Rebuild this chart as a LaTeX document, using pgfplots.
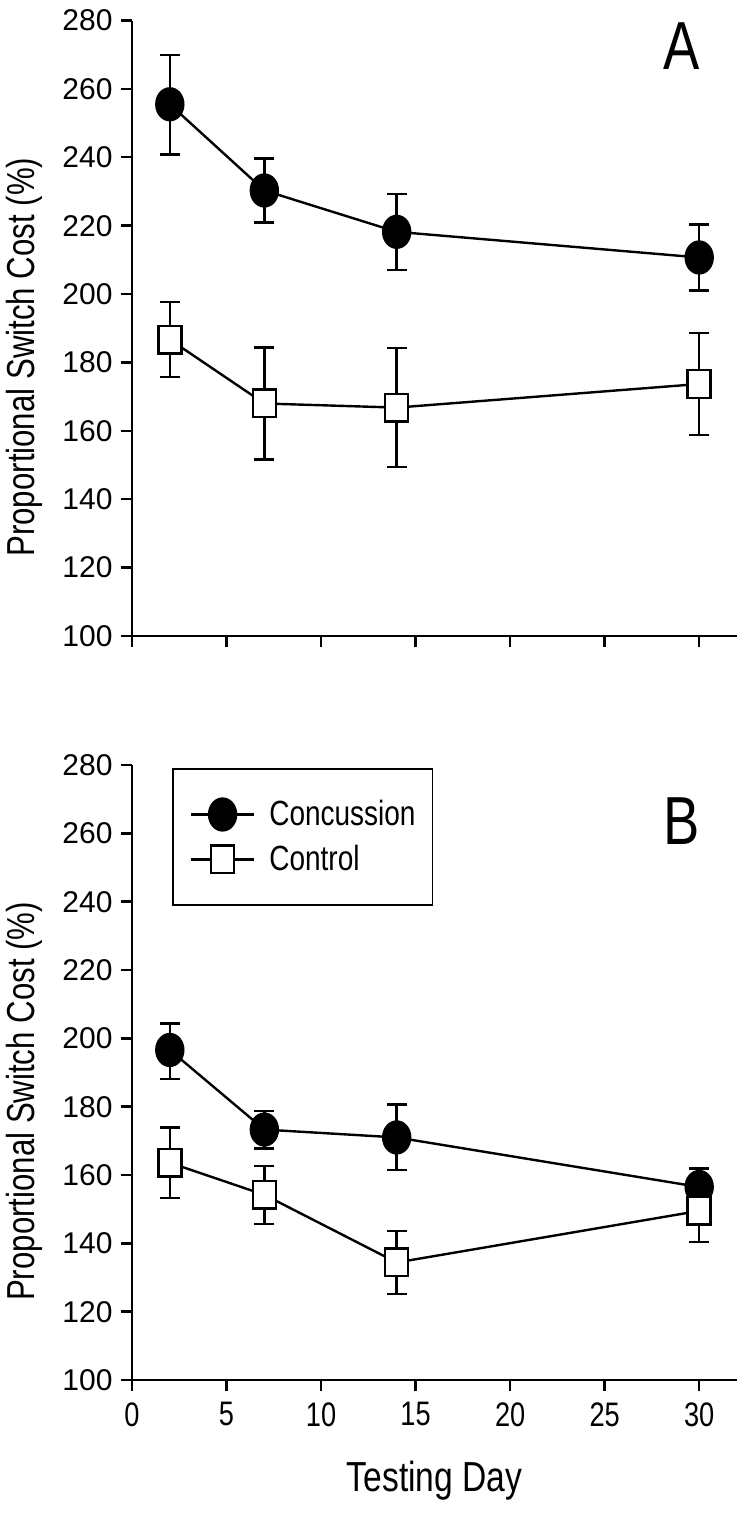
\documentclass[border=0pt]{standalone}
\usepackage{pgfplots}
\pgfplotsset{compat=1.18}
\usepackage{fontspec}
\setmainfont{Liberation Sans}
\newfontfamily\narrowfont[FakeStretch=0.8]{Liberation Sans}

\pgfplotsset{
  panel/.style={
    scale only axis,
    width=605pt,
    xmin=0, xmax=32,
    ymin=100, ymax=280,
    axis lines*=left,
    axis line style={line width=2.4pt},
    tick style={line width=2.4pt, black},
    tick align=outside,
    major tick length=11pt,
    xtick={0,5,10,15,20,25,30},
    ytick={100,120,140,160,180,200,220,240,260,280},
    /pgf/number format/assume math mode=true,
    yticklabel style={font=\fontsize{30}{32}\selectfont, xshift=-5pt},
    xticklabel style={font=\narrowfont\fontsize{34}{36}\selectfont, yshift=-8pt},
    ylabel={Proportional Switch Cost (\%)},
    ylabel style={font=\narrowfont\fontsize{39}{42}\selectfont, at={(axis description cs:-0.177,0.453)}, anchor=center, rotate=0},
    clip=false,
    unbounded coords=jump,
    legend image code/.code={\draw[mark repeat=2,mark phase=2,#1] plot coordinates {(0pt,0pt) (31.5pt,0pt) (63pt,0pt)};},
  },
  errs/.style={black, line width=2.4pt, mark=-, mark size=10pt, forget plot,
    mark options={line width=2.4pt, solid}},
  conc/.style={black, line width=2.4pt, mark=*, mark size=13.5pt,
    mark options={fill=black, yscale=1.18, line width=2.4pt}},
  ctrl/.style={black, line width=2.4pt, mark=square*, mark size=11.5pt,
    mark options={fill=white, yscale=1.2, line width=2.4pt}},
}

\begin{document}
\begin{tikzpicture}
\path[use as bounding box] (0pt,0pt) rectangle (747pt,-1527pt);

% Panel A
\begin{axis}[panel, at={(132pt,-636pt)}, anchor=south west, height=615.5pt,
  xticklabels={}]
% Concussion: mean, error bar ends
\addplot[errs] coordinates {
  (2,240.8) (2,270.0) (2,nan)
  (7,220.9) (7,239.7) (7,nan)
  (14,207.1) (14,229.3) (14,nan)
  (30,201.1) (30,220.3)
};
\addplot[conc] coordinates {(2,255.5) (7,230.3) (14,218.2) (30,210.7)};
% Control
\addplot[errs] coordinates {
  (2,175.7) (2,197.7) (2,nan)
  (7,151.6) (7,184.4) (7,nan)
  (14,149.4) (14,184.2) (14,nan)
  (30,158.8) (30,188.6)
};
\addplot[ctrl] coordinates {(2,186.7) (7,168.0) (14,166.8) (30,173.7)};
\node[font=\narrowfont\fontsize{68}{70}\selectfont, inner sep=0pt, anchor=center] at (axis description cs:0.909,0.958) {A};
\end{axis}

% Panel B
\begin{axis}[panel, at={(132pt,-1380pt)}, anchor=south west, height=615pt,
  xlabel={Testing Day},
  xlabel style={font=\narrowfont\fontsize{42}{44}\selectfont, at={(axis description cs:0.5,-0.164)}, anchor=center},
  legend style={at={(axis description cs:0.0661,0.995)}, anchor=north west,
    draw=black, line width=1.8pt,
    font=\narrowfont\fontsize{35}{38}\selectfont,
    inner xsep=17pt, inner ysep=25pt, row sep=4pt,
    nodes={inner xsep=0pt, inner ysep=0pt, text height=32pt, text depth=9pt},
    /tikz/every odd column/.append style={column sep=14pt}},
  legend cell align=left]
\addplot[errs] coordinates {
  (2,188.1) (2,204.4) (2,nan)
  (7,167.8) (7,178.8) (7,nan)
  (14,161.4) (14,180.6) (14,nan)
  (30,151.1) (30,161.9)
};
\addplot[conc] coordinates {(2,196.6) (7,173.3) (14,171.0) (30,156.5)};
\addlegendentry{Concussion}
\addplot[errs] coordinates {
  (2,153.3) (2,173.9) (2,nan)
  (7,145.7) (7,162.7) (7,nan)
  (14,125.1) (14,143.7) (14,nan)
  (30,140.4) (30,149.5)
};
\addplot[ctrl] coordinates {(2,163.6) (7,154.2) (14,134.4) (30,149.5)};
\addlegendentry{Control}
\node[font=\narrowfont\fontsize{68}{70}\selectfont, inner sep=0pt, anchor=center] at (axis description cs:0.909,0.908) {B};
\end{axis}
\end{tikzpicture}
\end{document}
